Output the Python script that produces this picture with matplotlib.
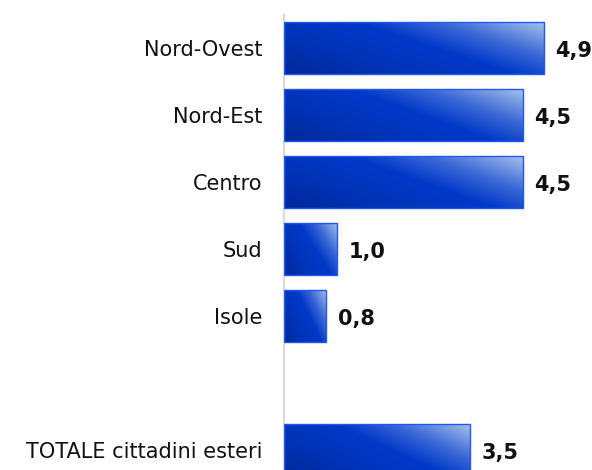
import numpy as np
from matplotlib import pyplot as plt
from matplotlib.colors import LinearSegmentedColormap
from matplotlib.patches import Rectangle

regioni = ['Nord-Ovest', 'Nord-Est', 'Centro', 'Sud', 'Isole', 'TOTALE cittadini esteri']
valori = [4.9, 4.5, 4.5, 1.0, 0.8, 3.5]
posizioni = [0, 1, 2, 3, 4, 6]   # slot 5 vuoto prima del totale
etichette = ['4,9', '4,5', '4,5', '1,0', '0,8', '3,5']

# gradiente stile office: scuro in basso a sinistra, chiaro in alto a destra
cmap = LinearSegmentedColormap.from_list('blu', [
    (0.0, '#00289a'), (0.3, '#0034b8'), (0.55, '#0038c8'), (0.75, '#3a68d6'), (1.0, '#a4bfe9')])

fig = plt.figure(figsize=(5.92, 4.70), dpi=100)
ax = fig.add_axes([284 / 592, 0, 1 - 284 / 592, 1])

h = 52 / 67
for p, v, lab in zip(posizioni, valori, etichette):
    ny, nx = 60, 120
    xf = np.linspace(0, 1, nx)[None, :]
    yf = np.linspace(1, 0, ny)[:, None]
    s = (xf + 0.6 * yf) / 1.6
    im = ax.imshow(s, cmap=cmap, vmin=0, vmax=1, aspect='auto', origin='upper',
                   extent=(0, v, p + h / 2, p - h / 2), interpolation='bilinear', zorder=2)
    r = Rectangle((0, p - h / 2), v, h, facecolor='none', edgecolor='#1f58f0', lw=1.0, zorder=3)
    ax.add_patch(r)
    im.set_clip_path(r)
    ax.text(v + 0.22, p + 0.04, lab, fontsize=15, fontweight='bold', ha='left', va='center',
            color='#111111')

ax.set_xlim(0, 306 / 52.7)
ax.set_ylim(6 + 20 / 67, -48 / 67)

ax.set_yticks(posizioni)
ax.set_yticklabels(regioni, fontsize=15)
ax.tick_params(axis='y', length=0, pad=15.5, colors='#111111')
ax.set_xticks([])
for sp in ['top', 'right', 'bottom']:
    ax.spines[sp].set_visible(False)
ax.spines['left'].set_color('#d9d9d9')
ax.spines['left'].set_linewidth(1.5)
ax.spines['left'].set_bounds(-0.5, 6 + 20 / 67)

fig.savefig('out.png', dpi=100)
